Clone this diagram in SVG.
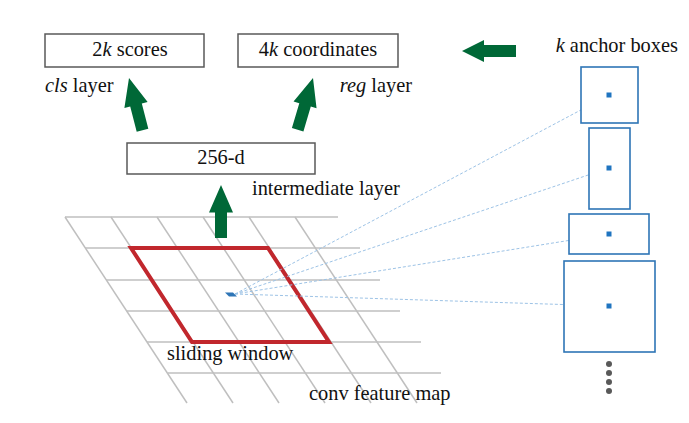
<svg xmlns="http://www.w3.org/2000/svg" width="689" height="423" viewBox="0 0 689 423">
<style>
.g{stroke:#bfbfbf;stroke-width:1.5;fill:none}
.arrow{fill:#006837}
.anc{fill:#fff;stroke:#2e75b6;stroke-width:1.6}
.dot{fill:#1f74c0}
.dash{stroke:#9dc3e6;stroke-width:1;stroke-dasharray:3 2;fill:none}
.pt{fill:#595959}
.box{fill:#fff;stroke:#595959;stroke-width:1.5}
</style>
<defs>
<polygon id="up" points="0,0 12,28 6,28 6,54 -6,54 -6,28 -12,28"/>
</defs>
<rect width="689" height="423" fill="#fff"/>
<g id="grid">
<line class="g" x1="65" y1="217" x2="338" y2="217"/>
<line class="g" x1="85" y1="248" x2="360" y2="248"/>
<line class="g" x1="106" y1="280" x2="380" y2="280"/>
<line class="g" x1="127" y1="311" x2="400" y2="311"/>
<line class="g" x1="147" y1="342" x2="421" y2="342"/>
<line class="g" x1="168" y1="373" x2="441" y2="373"/>
<line class="g" x1="65" y1="217" x2="187" y2="403"/>
<line class="g" x1="111" y1="217" x2="233" y2="403"/>
<line class="g" x1="157" y1="217" x2="279" y2="403"/>
<line class="g" x1="203" y1="217" x2="325" y2="403"/>
<line class="g" x1="249" y1="217" x2="371" y2="403"/>
<line class="g" x1="295" y1="217" x2="417" y2="403"/>
</g>
<g font-family="'Liberation Serif', 'DejaVu Serif', serif" font-size="20.4" fill="#111">
<g id="sliding-window">
<polygon points="131,248 268,248 329,342 192,342" fill="none" stroke="#c1272d" stroke-width="4"/>
<polygon points="225,292.5 233,292.5 237,296.5 229,296.5" fill="#2e75b6"/>
<text x="167" y="360">sliding window</text>
</g>
<text id="conv-label" x="309" y="400">conv feature map</text>
<g id="connectors">
<line class="dash" x1="235" y1="294" x2="609" y2="95"/>
<line class="dash" x1="235" y1="294" x2="609" y2="168"/>
<line class="dash" x1="235" y1="294" x2="609" y2="234"/>
<line class="dash" x1="235" y1="294" x2="609" y2="306"/>
<use href="#up" class="arrow" transform="translate(221,185) scale(1,0.98)"/>
<use href="#up" class="arrow" transform="translate(129,78) rotate(-14.5)"/>
<use href="#up" class="arrow" transform="translate(313,78) rotate(16.5)"/>
<polygon class="arrow" points="462,51 484,40 484,45 516,45 516,57 484,57 484,62"/>
</g>
<g id="scores">
<rect class="box" x="45" y="34" width="159" height="33"/>
<text x="130" y="56" text-anchor="middle">2<tspan font-style="italic">k</tspan> scores</text>
<text x="45" y="92"><tspan font-style="italic">cls</tspan> layer</text>
</g>
<g id="coordinates">
<rect class="box" x="238" y="34" width="160" height="33"/>
<text x="318" y="56" text-anchor="middle">4<tspan font-style="italic">k</tspan> coordinates</text>
<text x="412" y="92" text-anchor="end"><tspan font-style="italic">reg</tspan> layer</text>
</g>
<g id="intermediate">
<rect class="box" x="127" y="143" width="188" height="31"/>
<text x="221" y="164" text-anchor="middle">256-d</text>
<text x="252" y="195">intermediate layer</text>
</g>
<g id="anchors">
<text x="678" y="52" text-anchor="end"><tspan font-style="italic">k</tspan> anchor boxes</text>
<rect class="anc" x="581" y="67" width="57" height="56"/>
<rect class="dot" x="606.5" y="92.5" width="5" height="5"/>
<rect class="anc" x="589" y="128" width="41" height="81"/>
<rect class="dot" x="606.5" y="165.5" width="5" height="5"/>
<rect class="anc" x="569" y="214" width="80" height="40"/>
<rect class="dot" x="606.5" y="231.5" width="5" height="5"/>
<rect class="anc" x="564" y="261" width="91" height="91"/>
<rect class="dot" x="606.5" y="303.5" width="5" height="5"/>
<circle class="pt" cx="609" cy="364" r="3"/>
<circle class="pt" cx="609" cy="373" r="3"/>
<circle class="pt" cx="609" cy="382" r="3"/>
<circle class="pt" cx="609" cy="391" r="3"/>
</g>
</g>
</svg>
